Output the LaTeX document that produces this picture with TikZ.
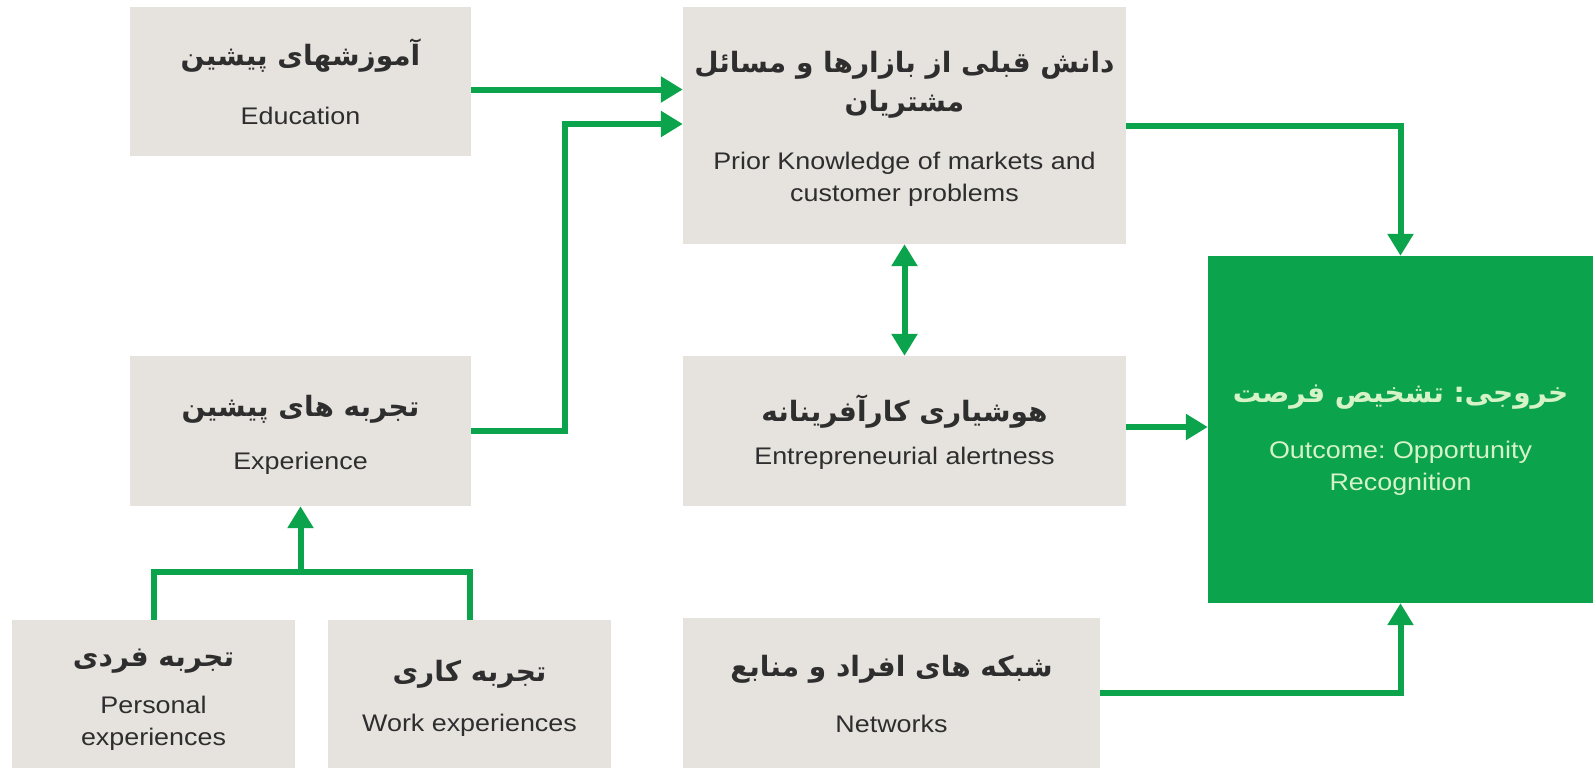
\documentclass[tikz,border=0pt]{standalone}
\usepackage{fontspec}
\setmainfont{Liberation Sans}[FakeStretch=1.12]
\newfontfamily\farsi[Script=Arabic]{DejaVu Sans}
\TeXXeTstate=1
\frenchspacing
\usetikzlibrary{arrows.meta}

\definecolor{boxgray}{HTML}{E6E3DF}
\definecolor{arrowgreen}{HTML}{0BA34B}
\definecolor{textgray}{HTML}{2E2E2E}
\definecolor{mint}{HTML}{D6F3C8}

\newcommand{\fa}[1]{{\farsi\bfseries\fontsize{28}{36}\selectfont\beginR #1\endR}}
\newcommand{\lift}[1]{\rule{0pt}{#1}}

\begin{document}
\begin{tikzpicture}[
  x=1pt, y=-1pt,
  box/.style = {fill=boxgray, inner sep=0pt, align=center, text=textgray,
    font=\fontsize{24}{32}\selectfont},
  result/.style = {box, fill=arrowgreen, text=mint},
  link/.style = {draw=arrowgreen, line width=6pt},
  arr/.style = {link, -{Triangle[length=22pt,width=25pt]}},
  arrs/.style = {link, {Triangle[length=22pt,width=25pt]}-{Triangle[length=22pt,width=25pt]}}
]
  \useasboundingbox (0,0) rectangle (1595,768);

  % boxes
  \node[box, minimum width=341pt, minimum height=149pt] (edu) at (300.5,81.5)
    {\fa{آموزشهای پیشین}\\[27pt] Education};
  \node[box, minimum width=443pt, minimum height=237pt] (prior) at (904.5,125.5)
    {\lift{27pt}\fa{دانش قبلی از بازارها و مسائل}\\[7pt] \fa{مشتریان}\\[26pt]
     Prior Knowledge of markets and\\ customer problems};
  \node[box, minimum width=341pt, minimum height=150pt] (exper) at (300.5,431)
    {\lift{28pt}\fa{تجربه های پیشین}\\[21pt] Experience};
  \node[box, minimum width=443pt, minimum height=150pt] (alert) at (904.5,431)
    {\lift{29pt}\fa{هوشیاری کارآفرینانه}\\[11pt] Entrepreneurial alertness};
  \node[result, minimum width=385pt, minimum height=347pt] (outcome) at (1400.5,429.5)
    {\lift{38pt}\fa{خروجی: تشخیص فرصت}\\[24pt] Outcome: Opportunity\\ Recognition};
  \node[box, minimum width=283pt, minimum height=148pt] (personal) at (153.5,694)
    {\lift{29pt}\fa{تجربه فردی}\\[15pt] Personal\\ experiences};
  \node[box, minimum width=283pt, minimum height=148pt] (work) at (469.5,694)
    {\lift{30pt}\fa{تجربه کاری}\\[18pt] Work experiences};
  \node[box, minimum width=417pt, minimum height=150pt] (networks) at (891.5,693)
    {\lift{23pt}\fa{شبکه های افراد و منابع}\\[24pt] Networks};

  % connectors
  \coordinate (bend) at (565,124);
  \coordinate (join) at (300.5,572);
  \draw[arr] ([yshift=-8pt]edu.east) -- ([yshift=-8pt]edu.east -| prior.west);
  \draw[arr] (exper.east) -| (bend) -- (bend -| prior.west);
  \draw[arr] (prior.east) -| (outcome.north);
  \draw[arrs] (prior.south) -- (alert.north);
  \draw[arr] ([yshift=4pt]alert.east) -- ([yshift=4pt]alert.east -| outcome.west);
  \draw[arr] (networks.east) -| (outcome.south);
  \draw[link] (personal.north) |- (join) -| (work.north);
  \draw[arr] (join) -- (exper.south);
\end{tikzpicture}
\end{document}
